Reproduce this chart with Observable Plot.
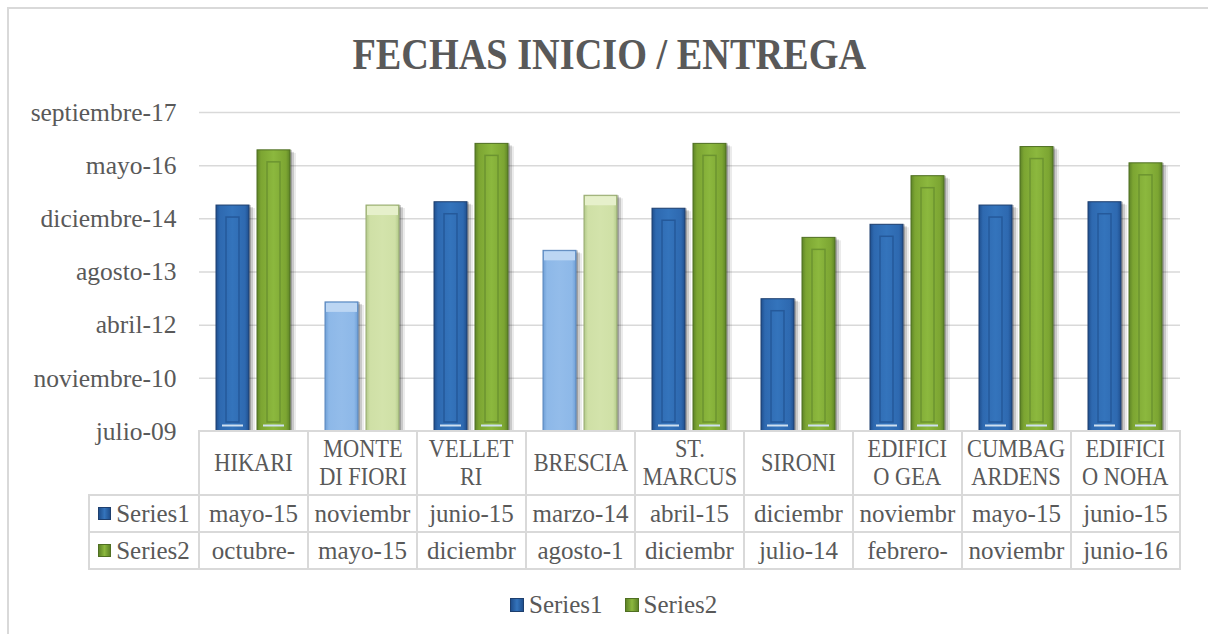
<!DOCTYPE html>
<html><head><meta charset="utf-8">
<script src="https://cdn.jsdelivr.net/npm/d3@7"></script>
<script src="https://cdn.jsdelivr.net/npm/@observablehq/plot@0.6"></script>
<style>
html,body{margin:0;padding:0;background:#fff;overflow:hidden;}
#root{position:relative;width:1208px;height:634px;overflow:hidden;font-family:"Liberation Serif",serif;color:#595959;}
#frame{position:absolute;left:7px;top:7px;width:1400px;height:900px;border-left:2px solid #d9d9d9;border-top:2px solid #d9d9d9;}
#title{position:absolute;left:0;width:1218px;top:33px;text-align:center;font-weight:bold;font-size:44px;line-height:44px;}
#title span{display:inline-block;transform:scaleX(0.87);transform-origin:50% 50%;white-space:nowrap;}
.cell{position:absolute;box-sizing:border-box;border:2px solid #d9d9d9;display:flex;align-items:center;justify-content:center;text-align:center;font-size:25px;white-space:pre-line;background:#fff;}
.cat span{display:inline-block;transform:scaleX(0.86);line-height:28px;font-size:26px;}
.sw{display:inline-block;width:13px;height:13px;box-sizing:border-box;margin-right:5px;}
#legend{position:absolute;left:510px;top:590px;display:flex;align-items:center;font-size:25px;line-height:30px;white-space:nowrap;}
#legend .item{display:flex;align-items:center;margin-right:22px;}
#legend .sw{width:14px;height:14px;}
</style></head>
<body><div id="root"><div id="frame"></div><div id="title"><span>FECHAS INICIO / ENTREGA</span></div></div>
<script>
// ---- data ----
const categories = ["HIKARI","MONTE DI FIORI","VELLETRI","BRESCIA","ST. MARCUS","SIRONI","EDIFICIO GEA","CUMBAGARDENS","EDIFICIO NOHA"];
const categoryLabels = ["HIKARI","MONTE\nDI FIORI","VELLET\nRI","BRESCIA","ST.\nMARCUS","SIRONI","EDIFICI\nO GEA","CUMBAG\nARDENS","EDIFICI\nO NOHA"];
const seriesNames = ["Series1","Series2"];
const series1 = ["2015-05-01","2012-11-01","2015-06-01","2014-03-01","2015-04-01","2012-12-01","2014-11-01","2015-05-01","2015-06-01"];
const series2 = ["2016-10-01","2015-05-01","2016-12-01","2015-08-01","2016-12-01","2014-07-01","2016-02-01","2016-11-01","2016-06-01"];
const highlighted = ["MONTE DI FIORI","BRESCIA"];
const yTicks = ["2009-07-06","2010-11-18","2012-04-01","2013-08-14","2014-12-27","2016-05-10","2017-09-22"];
const meses = ["enero","febrero","marzo","abril","mayo","junio","julio","agosto","septiembre","octubre","noviembre","diciembre"];
const cellChars = 8;

// ---- helpers ----
const toDate = s => new Date(s + "T00:00:00Z");
const fmt = d => meses[d.getUTCMonth()] + "-" + String(d.getUTCFullYear() % 100).padStart(2, "0");
const tickDates = yTicks.map(toDate);
const yMin = tickDates[0];
const seriesValues = [series1, series2];
const rows = [];
categories.forEach((c, i) => seriesNames.forEach((s, j) => rows.push({cat: c, series: s, date: toDate(seriesValues[j][i]), light: highlighted.includes(c)})));

const style = {
  "Series1": {grad: "url(#gS1)", stroke: "#1e3f6e", inner: "#25599a"},
  "Series2": {grad: "url(#gS2)", stroke: "#4f6f22", inner: "#6c9430"},
  "Series1L": {grad: "url(#gS1L)", stroke: "#5a86bb", top: "#bcd6f3"},
  "Series2L": {grad: "url(#gS2L)", stroke: "#95a86e", top: "#e6f0cb"}
};
const common = {fx: "cat", x: "series"};
const marks = [
  Plot.gridY(tickDates, {stroke: "#d9d9d9", strokeOpacity: 1, strokeWidth: 1.5}),
  Plot.axisY(tickDates, {tickSize: 0, tickPadding: 23, tickFormat: fmt, fontSize: 25.5}),
  // soft shadow to the right of every bar
  Plot.barY(rows, {...common, y1: () => yMin, y2: "date", dx: 6, dy: 1, insetTop: 2, fill: "#000", fillOpacity: 0.08}),
  Plot.barY(rows, {...common, y1: () => yMin, y2: "date", dx: 4, dy: 1, insetTop: 1, fill: "#000", fillOpacity: 0.14}),
  Plot.barY(rows, {...common, y1: () => yMin, y2: "date", dx: 2, dy: 0, fill: "#000", fillOpacity: 0.2})
];
for (const s of seriesNames) {
  for (const light of [false, true]) {
    const data = rows.filter(d => d.series === s && d.light === light);
    const st = style[s + (light ? "L" : "")];
    marks.push(Plot.barY(data, {...common, y1: () => yMin, y2: "date", fill: st.grad, stroke: st.stroke, strokeWidth: 1}));
    if (!light) {
      marks.push(Plot.barY(data, {...common, y1: () => yMin, y2: "date", fill: "none", stroke: st.inner, strokeWidth: 1.5, insetLeft: 10, insetRight: 10, insetTop: 12, insetBottom: 9}));
      marks.push(Plot.tickY(data, {...common, y: () => yMin, dy: -6, stroke: "#cfe0f0", strokeWidth: 2, insetLeft: 6, insetRight: 6}));
    } else {
      marks.push(Plot.barY(data, {...common, y1: "date", y2: "date", insetTop: 1, insetBottom: -10, insetLeft: 1, insetRight: 1, fill: st.top}));
    }
  }
}

const plot = Plot.plot({
  width: 1208, height: 440,
  marginLeft: 198, marginRight: 26.5, marginTop: 112, marginBottom: 9,
  style: {fontFamily: "Liberation Serif", fontSize: "25px", color: "#595959", background: "transparent", overflow: "visible"},
  fx: {domain: categories, padding: 0, axis: null},
  x: {domain: seriesNames, paddingInner: 0.19, paddingOuter: 0.4, axis: null},
  y: {type: "utc", domain: [tickDates[0], tickDates[tickDates.length - 1]], axis: null},
  marks
});
plot.style.position = "absolute";
plot.style.left = "0px";
plot.style.top = "0px";

// gradients
const defs = d3.select(plot).insert("defs", ":first-child");
const grads = {
  gS1: ["#1f4f8e", "#2e69b0", "#3474bc", "#2e69b0", "#1f4f8e"],
  gS2: ["#5e8427", "#7ca532", "#8cb83e", "#7ca532", "#5e8427"],
  gS1L: ["#6f9fd6", "#8db8e8", "#93bcea", "#8db8e8", "#6f9fd6"],
  gS2L: ["#b2c98a", "#cfe0a6", "#d3e3ab", "#cfe0a6", "#b2c98a"]
};
for (const [id, cols] of Object.entries(grads)) {
  const g = defs.append("linearGradient").attr("id", id).attr("x1", 0).attr("x2", 1).attr("y1", 0).attr("y2", 0);
  [0, 0.12, 0.5, 0.88, 1].forEach((o, k) => g.append("stop").attr("offset", o).attr("stop-color", cols[k]));
}

const root = document.getElementById("root");
root.appendChild(plot);

// data table below the plot, aligned with the fx scale
const fx = plot.scale("fx");
const step = fx.step ?? fx.bandwidth;
const fxPos = c => fx.apply(c);
const tableTop = 431, catH = 64, rowH = 37;
const labelLeft = 89;
function cell(x, y, w, h, html, cls) {
  const d = document.createElement("div");
  d.className = "cell " + (cls || "");
  d.style.left = (x - 1) + "px"; d.style.top = (y - 1) + "px";
  d.style.width = (w + 2) + "px"; d.style.height = (h + 2) + "px";
  d.innerHTML = html;
  root.appendChild(d);
}
categories.forEach((c, i) => {
  const x = fxPos(c);
  cell(x, tableTop, step, catH, "<span>" + categoryLabels[i] + "</span>", "cat");
  seriesValues.forEach((vals, j) => {
    cell(x, tableTop + catH + j * rowH, step, rowH, fmt(toDate(vals[i])).slice(0, cellChars));
  });
});
const swatch = {
  Series1: "background:linear-gradient(90deg,#1f4f8e,#3474bc,#1f4f8e);border:1px solid #1e3f6e;",
  Series2: "background:linear-gradient(90deg,#5e8427,#8cb83e,#5e8427);border:1px solid #4f6f22;"
};
seriesNames.forEach((s, j) => {
  cell(labelLeft, tableTop + catH + j * rowH, fxPos(categories[0]) - labelLeft, rowH,
    '<span class="sw" style="' + swatch[s] + '"></span>' + s);
});
// legend
const leg = document.createElement("div");
leg.id = "legend";
leg.innerHTML = seriesNames.map(s => '<div class="item"><span class="sw" style="' + swatch[s] + '"></span>' + s + '</div>').join("");
root.appendChild(leg);
</script>
</body></html>
